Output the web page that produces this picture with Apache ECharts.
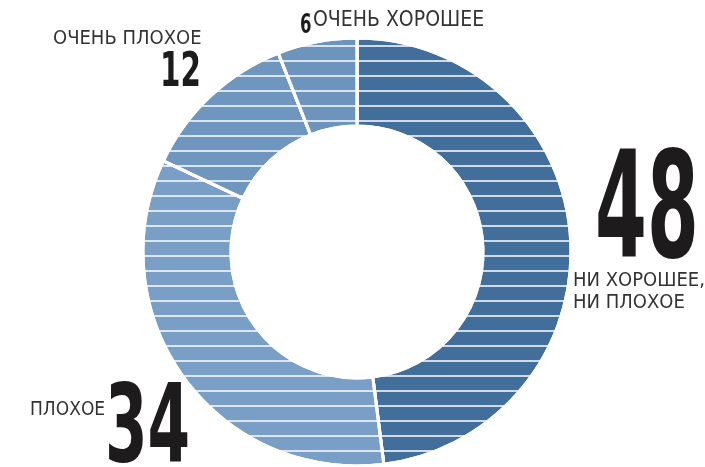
<!DOCTYPE html>
<html>
<head>
<meta charset="utf-8">
<script src="https://cdn.jsdelivr.net/npm/echarts@6/dist/echarts.min.js"></script>
<style>
  html, body { margin: 0; padding: 0; background: #fff; }
  #chart { width: 705px; height: 467px; }
</style>
</head>
<body>
<div id="chart"></div>
<script>
// доли ответов, по часовой стрелке от 12 часов
var categories = ['НИ ХОРОШЕЕ,\nНИ ПЛОХОЕ', 'ПЛОХОЕ', 'ОЧЕНЬ ПЛОХОЕ', 'ОЧЕНЬ ХОРОШЕЕ'];
var values = [48, 34, 12, 6];
var colors = ['#426e9b', '#7a9fc6', '#6f96bf', '#6d94bd'];

var numFont = '"DejaVu Sans Condensed", "Liberation Sans Narrow", sans-serif';

var chart = echarts.init(document.getElementById('chart'));

// подписи: [x, y центра, размер цифр, сжатие] для числа и [x, y, размер] для названия
var numPos = [
	[595, 219, 148, 0.56],
	[105, 433, 108, 0.63],
	[160, 74, 48, 0.68],
	[300, 26, 27, 0.68]
];
var namePos = [
	[573, 292, 20],
	[30, 410, 19],
	[53, 39, 20],
	[313, 21, 21]
];

var graphics = [];
for (var i = 0; i < values.length; i++) {
	graphics.push({
		type: 'text',
		x: numPos[i][0],
		y: numPos[i][1],
		scaleX: numPos[i][3],
		style: {
			text: String(values[i]),
			font: 'bold ' + numPos[i][2] + 'px ' + numFont,
			fill: '#1d1b1c',
			textAlign: 'left',
			textVerticalAlign: 'middle'
		}
	});
	graphics.push({
		type: 'text',
		x: namePos[i][0],
		y: namePos[i][1],
		style: {
			text: categories[i],
			font: namePos[i][2] + 'px ' + numFont,
			fill: '#333333',
			lineHeight: 22,
			textAlign: 'left',
			textVerticalAlign: 'middle'
		}
	});
}

chart.setOption({
	animation: false,
	graphic: graphics,
	series: [{
		type: 'pie',
		center: [357, 252],
		radius: [126, 214],
		startAngle: 90,
		clockwise: true,
		label: { show: false },
		labelLine: { show: false },
		emphasis: { disabled: true },
		itemStyle: {
			borderColor: '#ffffff',
			borderWidth: 3,
			decal: {
				symbol: 'rect',
				symbolSize: 1,
				color: 'rgba(255,255,255,0.75)',
				dashArrayX: [1, 0],
				dashArrayY: [2, 13],
				rotation: 0
			}
		},
		data: values.map(function (v, i) {
			return { name: categories[i], value: v, itemStyle: { color: colors[i] } };
		})
	}]
});
</script>
</body>
</html>
